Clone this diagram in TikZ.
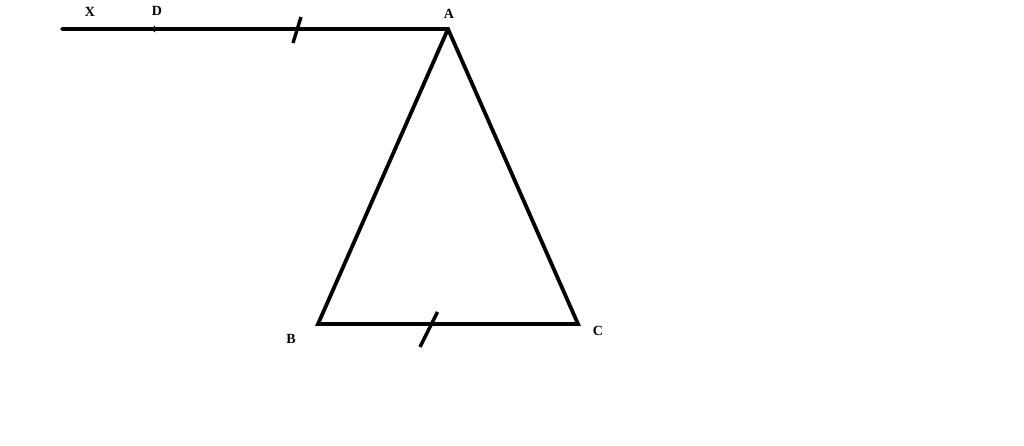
\documentclass[tikz,border=0pt]{standalone}
\usepackage{fontspec}
\setmainfont{Liberation Serif}
\begin{document}
\begin{tikzpicture}[x=1pt,y=-1pt,
  seg/.style={line width=3.8pt,line join=miter,line cap=round},
  tick/.style={line width=3.4pt},
  lbl/.style={font=\fontsize{14}{16}\selectfont\bfseries,inner sep=0pt}]
\useasboundingbox (0,0) rectangle (1024,446);
\coordinate (X) at (62,29);
\coordinate (D) at (154,29);
\coordinate (A) at (448,29);
\coordinate (B) at (318,324);
\coordinate (C) at (578,324);
\coordinate (t1a) at (301,17);
\coordinate (t1b) at (293,43);
\coordinate (t2a) at (437.5,312);
\coordinate (t2b) at (420,347);
\draw[seg] (X) -- (A) -- (C) -- (B) -- (A);
\fill (D) ++(-3,0) -- ++(4,-3.5) -- ++(0,7) -- cycle;
\draw[tick] (t1a) -- (t1b);
\draw[tick] (t2a) -- (t2b);
\node[lbl] (lX) at (90,12) {X};
\node[lbl] (lD) at (157,11) {D};
\node[lbl] (lA) at (449,14) {A};
\node[lbl] (lB) at (291,339) {B};
\node[lbl] (lC) at (598,331) {C};
\end{tikzpicture}
\end{document}
